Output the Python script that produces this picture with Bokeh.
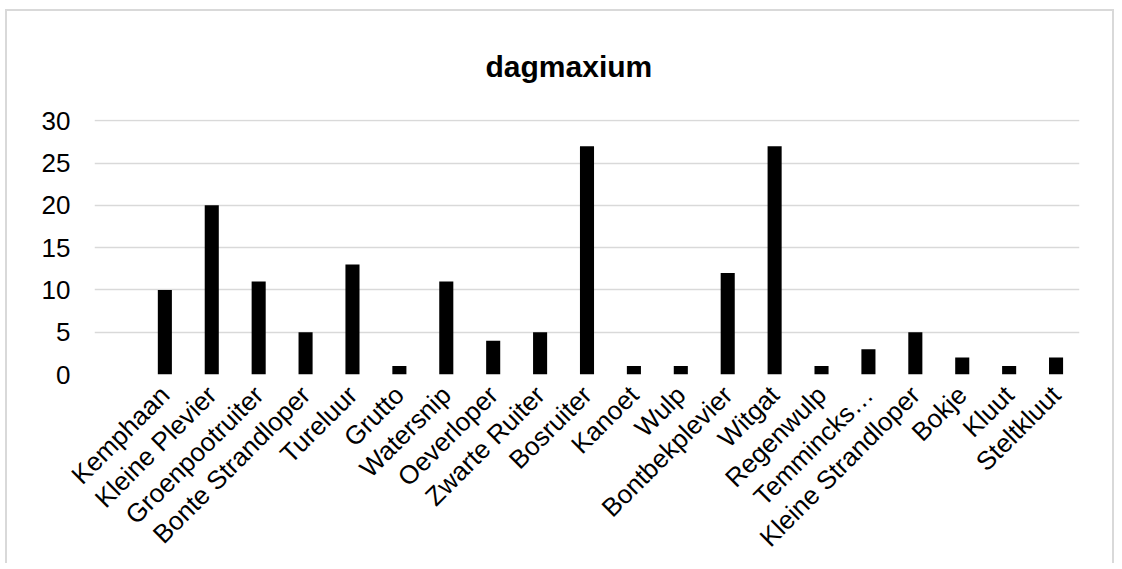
from bokeh.plotting import figure
from bokeh.models import FactorRange, Range1d, FixedTicker, ColumnDataSource
from bokeh.embed import file_html
from bokeh.resources import INLINE
import math

title_text = "dagmaxium"
categories = [" ", "Kemphaan", "Kleine Plevier", "Groenpootruiter", "Bonte Strandloper",
              "Tureluur", "Grutto", "Watersnip", "Oeverloper", "Zwarte Ruiter",
              "Bosruiter", "Kanoet", "Wulp", "Bontbekplevier", "Witgat", "Regenwulp",
              "Temmincks…", "Kleine Strandloper", "Bokje", "Kluut", "Steltkluut"]
values = [0, 10, 20, 11, 5, 13, 1, 11, 4, 5, 27, 1, 1, 12, 27, 1, 3, 5, 2, 1, 2]
y_ticks = [0, 5, 10, 15, 20, 25, 30]

FONT = "Liberation Sans"

src = ColumnDataSource(dict(cat=categories[1:], val=values[1:]))

p = figure(width=1109, height=554, x_range=FactorRange(factors=categories),
           y_range=Range1d(0, 30.15), output_backend="svg", toolbar_location=None,
           min_border_left=87, min_border_right=37, min_border_top=108,
           min_border_bottom=10)
p.styles = {"border-top": "2px solid #d9d9d9", "border-left": "2px solid #d9d9d9",
            "border-right": "2px solid #d9d9d9", "margin-top": "9px", "margin-left": "5px"}

p.vbar(x="cat", top="val", width=0.3, source=src, fill_color="black", line_color=None)

p.title.text = title_text
p.title.text_font = FONT
p.title.text_font_size = "30px"
p.title.text_font_style = "bold"
p.title.text_color = "black"
p.title.align = "left"
p.title.vertical_align = "top"
p.title.offset = 391
p.title.standoff = 70

p.outline_line_color = None
p.xgrid.grid_line_color = None
p.ygrid.grid_line_color = "#d9d9d9"
p.ygrid.grid_line_width = 1.5
p.ygrid.ticker = FixedTicker(ticks=y_ticks)

p.yaxis.ticker = FixedTicker(ticks=y_ticks)
p.yaxis.axis_line_color = None
p.yaxis.major_tick_line_color = None
p.yaxis.minor_tick_line_color = None
p.yaxis.major_label_text_font = FONT
p.yaxis.major_label_text_font_size = "26px"
p.yaxis.major_label_text_color = "black"
p.yaxis.major_label_standoff = 18

p.xaxis.axis_line_color = None
p.xaxis.major_tick_line_color = None
p.xaxis.major_label_text_font = FONT
p.xaxis.major_label_text_font_size = "26px"
p.xaxis.major_label_text_color = "black"
p.xaxis.major_label_orientation = math.pi / 4
p.xaxis.major_label_standoff = 10

open("out.html", "w").write(file_html(p, INLINE))
